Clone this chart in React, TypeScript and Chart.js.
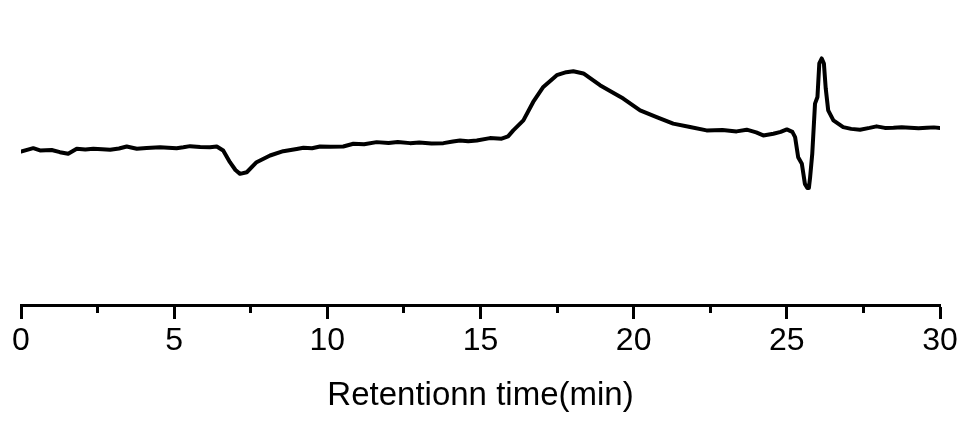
import React, { useEffect, useRef } from "react";
import { Chart, registerables } from "chart.js";

Chart.register(...registerables);

// Retention time (min)
const timeMin = [
  0.0, 0.4, 0.62, 1.0, 1.27, 1.54, 1.82, 2.1, 2.36, 2.65, 2.91, 3.2, 3.45, 3.78, 4.1, 4.54, 4.8, 5.08, 5.3, 5.52,
  5.85, 6.17, 6.39, 6.6, 6.82, 7.0, 7.15, 7.37, 7.69, 8.13, 8.56, 9.0, 9.22, 9.5, 9.76, 10.1, 10.52, 10.85,
  11.2, 11.61, 12.0, 12.3, 12.7, 13.0, 13.4, 13.79, 14.1, 14.33, 14.6, 14.88, 15.31, 15.69, 15.9, 16.07, 16.4,
  16.72, 17.05, 17.49, 17.8, 18.03, 18.36, 18.9, 19.3, 19.66, 20.21, 20.75, 21.29, 21.84, 22.38, 22.9, 23.36,
  23.69, 24.0, 24.23, 24.56, 24.8, 25.0, 25.18, 25.27, 25.37, 25.49, 25.59, 25.67, 25.72, 25.76, 25.83, 25.92,
  26.0, 26.06, 26.14, 26.21, 26.27, 26.35, 26.52, 26.84, 27.1, 27.39, 27.7, 27.93, 28.2, 28.48, 28.75, 29.02,
  29.3, 29.57, 29.8, 30.0,
];

// Detector signal (arbitrary units)
const signal = [
  153, 156.3, 154, 154.5, 152.3, 150.7, 155.7, 155, 155.7, 155.2, 154.7, 156, 158, 155.7, 156.5, 157.3, 156.8,
  156.3, 157.2, 158.3, 157.5, 157.3, 158, 154, 142.3, 134.5, 130.7, 132.3, 142.3, 149, 153.3, 155.5, 156.7, 156.2,
  158, 157.6, 158, 160.7, 160.2, 162.3, 161.5, 162.5, 161.3, 162, 161, 161.3, 163, 164, 163.2, 164, 166.3, 165.7,
  168, 174, 184, 202.3, 217.3, 229, 232, 233, 230.7, 219, 212, 205.7, 194, 187.3, 180.7, 177.3, 174, 174.3, 173,
  174.7, 172, 169, 170.7, 172.5, 175, 172.5, 167.3, 147.3, 140.7, 120.7, 116.5, 116.5, 127.3, 150.7, 200.7, 207.3,
  240.7, 245.7, 240.7, 215.7, 194, 184, 177.3, 175.5, 174.7, 176.5, 178, 176.5, 176.7, 177.2, 176.7, 176.2, 176.7,
  177, 176.3,
];

const minorTicks = [0, 2.5, 5, 7.5, 10, 12.5, 15, 17.5, 20, 22.5, 25, 27.5, 30];
const majorTicks = [0, 5, 10, 15, 20, 25, 30];
const xTitle = "Retentionn time(min)";

const FONT = "'Liberation Sans', Arial, Helvetica, sans-serif";

export default function App() {
  const ref = useRef<HTMLCanvasElement | null>(null);

  useEffect(() => {
    if (!ref.current) return;
    const data = timeMin.map((t, i) => ({ x: t, y: signal[i] }));
    const chart = new Chart(ref.current, {
      type: "line",
      data: {
        datasets: [
          {
            data,
            xAxisID: "x",
            yAxisID: "y",
            borderColor: "#000",
            borderWidth: 4,
            pointRadius: 0,
            tension: 0,
            borderJoinStyle: "round",
            borderCapStyle: "round",
            fill: false,
          },
        ],
      },
      options: {
        animation: false,
        responsive: false,
        maintainAspectRatio: false,
        layout: { padding: { top: 20, left: 21, right: 24, bottom: 4 } },
        plugins: { legend: { display: false }, tooltip: { enabled: false } },
        scales: {
          x: {
            type: "linear",
            position: "bottom",
            weight: 0,
            min: 0,
            max: 30,
            afterBuildTicks: (scale: any) => {
              scale.ticks = minorTicks.map((v) => ({ value: v }));
            },
            grid: {
              display: true,
              drawOnChartArea: false,
              drawTicks: true,
              tickLength: 8,
              tickWidth: 3,
              tickColor: "#000",
            },
            border: { display: true, width: 3, color: "#000" },
            ticks: { display: false },
          },
          x2: {
            type: "linear",
            position: "bottom",
            weight: 1,
            min: 0,
            max: 30,
            afterBuildTicks: (scale: any) => {
              scale.ticks = majorTicks.map((v) => ({ value: v }));
            },
            grid: {
              display: true,
              drawOnChartArea: false,
              drawTicks: true,
              tickLength: 6,
              tickWidth: 3,
              tickColor: "#000",
            },
            border: { display: false },
            ticks: {
              color: "#000",
              padding: 3,
              maxRotation: 0,
              autoSkip: false,
              font: { family: FONT, size: 32 },
            },
            title: {
              display: true,
              text: xTitle,
              color: "#000",
              font: { family: FONT, size: 33 },
              padding: { top: 13, bottom: 4 },
            },
          },
          y: {
            type: "linear",
            display: false,
            min: 0,
            max: 284,
          },
        },
      },
    });
    return () => chart.destroy();
  }, []);

  return (
    <div style={{ position: "absolute", left: 0, top: 0, width: 964, height: 424, background: "#fff" }}>
      <canvas ref={ref} width={964} height={424} style={{ display: "block", width: 964, height: 424 }} />
    </div>
  );
}
